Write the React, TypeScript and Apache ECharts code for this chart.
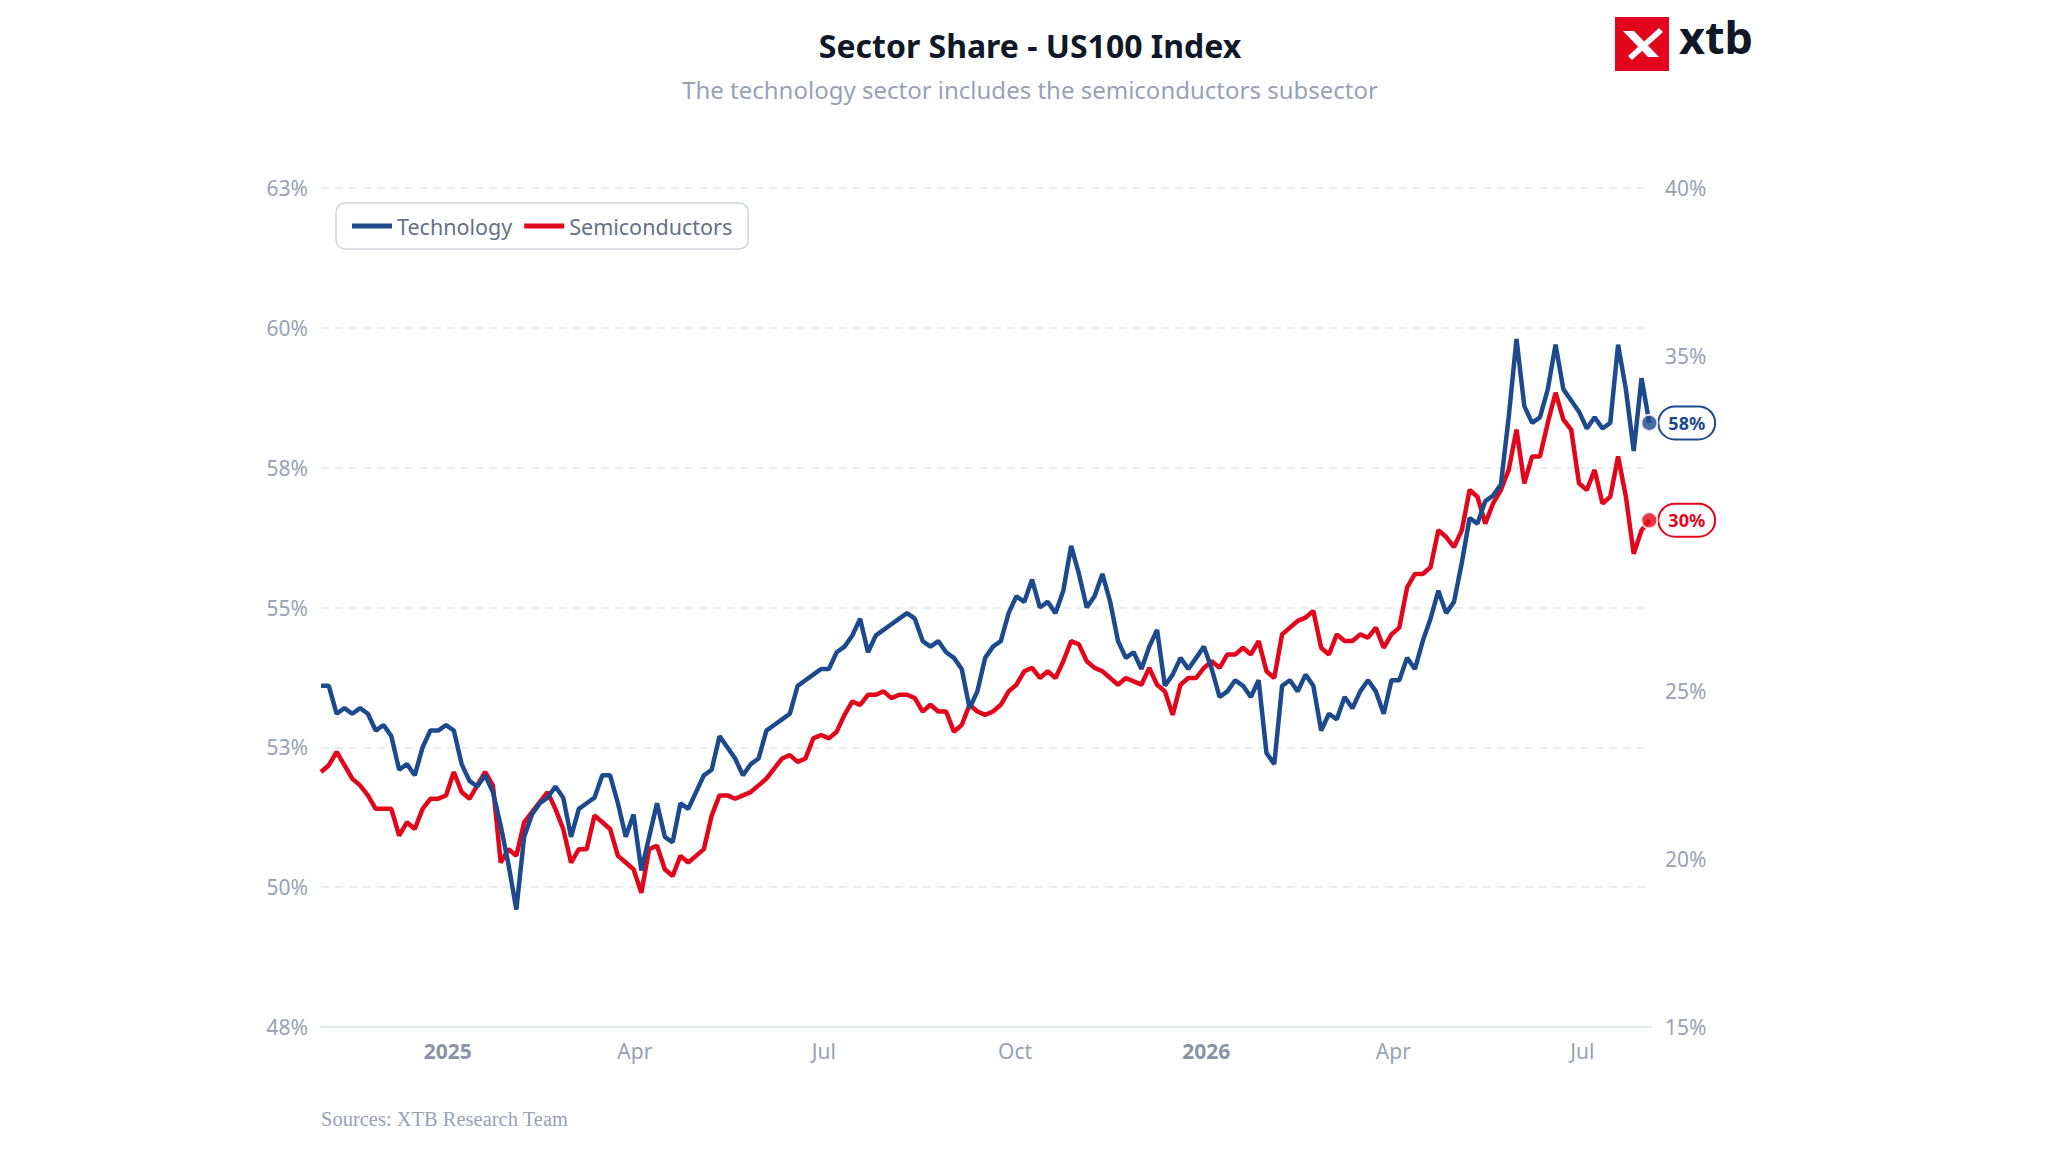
import React, { useEffect, useRef } from "react";
import * as echarts from "echarts";

const startDate = "2024-11-01";
const stepDays = 3.76;

const technology = [
  53.6,53.6,53.1,53.2,53.1,53.2,53.1,52.8,52.9,52.7,
  52.1,52.2,52.0,52.5,52.8,52.8,52.9,52.8,52.2,51.9,
  51.8,52.0,51.7,51.1,50.4,49.6,50.9,51.3,51.5,51.6,
  51.8,51.6,50.9,51.4,51.5,51.6,52.0,52.0,51.5,50.9,
  51.3,50.3,50.9,51.5,50.9,50.8,51.5,51.4,51.7,52.0,
  52.1,52.7,52.5,52.3,52.0,52.2,52.3,52.8,52.9,53.0,
  53.1,53.6,53.7,53.8,53.9,53.9,54.2,54.3,54.5,54.8,
  54.2,54.5,54.6,54.7,54.8,54.9,54.8,54.4,54.3,54.4,
  54.2,54.1,53.9,53.2,53.5,54.1,54.3,54.4,54.9,55.2,
  55.1,55.5,55.0,55.1,54.9,55.3,56.1,55.6,55.0,55.2,
  55.6,55.1,54.4,54.1,54.2,53.9,54.3,54.6,53.6,53.8,
  54.1,53.9,54.1,54.3,53.9,53.4,53.5,53.7,53.6,53.4,
  53.7,52.4,52.2,53.6,53.7,53.5,53.8,53.6,52.8,53.1,
  53.0,53.4,53.2,53.5,53.7,53.5,53.1,53.7,53.7,54.1,
  53.9,54.4,54.8,55.3,54.9,55.1,55.8,56.6,56.5,56.9,
  57.0,57.2,58.4,59.8,58.6,58.3,58.4,58.9,59.7,58.9,
  58.7,58.5,58.2,58.4,58.2,58.3,59.7,58.9,57.8,59.1,
  58.3,
];

const semiconductors = [
  22.6,22.8,23.2,22.8,22.4,22.2,21.9,21.5,21.5,21.5,
  20.7,21.1,20.9,21.5,21.8,21.8,21.9,22.6,22.0,21.8,
  22.2,22.6,22.2,19.9,20.3,20.1,21.1,21.4,21.7,22.0,
  21.5,20.9,19.9,20.3,20.3,21.3,21.1,20.9,20.1,19.9,
  19.7,19.0,20.3,20.4,19.7,19.5,20.1,19.9,20.1,20.3,
  21.3,21.9,21.9,21.8,21.9,22.0,22.2,22.4,22.7,23.0,
  23.1,22.9,23.0,23.6,23.7,23.6,23.8,24.3,24.7,24.6,
  24.9,24.9,25.0,24.8,24.9,24.9,24.8,24.4,24.6,24.4,
  24.4,23.8,24.0,24.6,24.4,24.3,24.4,24.6,25.0,25.2,
  25.6,25.7,25.4,25.6,25.4,25.9,26.5,26.4,25.9,25.7,
  25.6,25.4,25.2,25.4,25.3,25.2,25.7,25.2,25.0,24.3,
  25.2,25.4,25.4,25.7,25.9,25.7,26.1,26.1,26.3,26.1,
  26.5,25.6,25.4,26.7,26.9,27.1,27.2,27.4,26.3,26.1,
  26.7,26.5,26.5,26.7,26.6,26.9,26.3,26.7,26.9,28.1,
  28.5,28.5,28.7,29.8,29.6,29.3,29.8,31.0,30.8,30.0,
  30.6,31.0,31.6,32.8,31.2,32.0,32.0,33.0,33.9,33.1,
  32.8,31.2,31.0,31.6,30.6,30.8,32.0,30.8,29.1,29.8,
  30.1,
];

const axisMin = "2024-11-01";
const axisMax = "2026-08-03";
const MONTHS = ["Jan","Feb","Mar","Apr","May","Jun","Jul","Aug","Sep","Oct","Nov","Dec"];

const BLUE = "#1d4a8c";
const RED = "#e3051b";
const GRAY = "#98a2b3";
const FONT = "'Noto Sans', 'Open Sans', sans-serif";

export default function App() {
  const ref = useRef<HTMLDivElement>(null);
  useEffect(() => {
    if (!ref.current) return;
    const chart = echarts.init(ref.current, null, { renderer: "svg" });
    const t0 = new Date(startDate + "T00:00:00").getTime();
    const day = 86400000;
    const techData = technology.map((v, i) => [t0 + i * stepDays * day, v]);
    const semiData = semiconductors.map((v, i) => [t0 + i * stepDays * day, v]);
    const lastT = techData[techData.length - 1];
    const lastS = semiData[semiData.length - 1];

    const endLabel = (color: string) => ({
      show: true,
      formatter: (p: any) => Math.round(p.value[1]) + "%",
      color,
      fontFamily: FONT,
      fontWeight: "bold",
      fontSize: 18,
      backgroundColor: "#fff",
      borderColor: color,
      borderWidth: 2,
      borderRadius: 16,
      padding: [7, 9, 6, 9],
      distance: 10,
    });

    chart.setOption({
      animation: false,
      backgroundColor: "#fff",
      textStyle: { fontFamily: FONT },
      title: [
        {
          text: "Sector Share - US100 Index",
          left: 1025,
          top: 24,
          textAlign: "center",
          textStyle: { fontSize: 32, fontWeight: "bold", color: "#101828", fontFamily: FONT },
        },
        {
          text: "The technology sector includes the semiconductors subsector",
          left: 1025,
          top: 72,
          textAlign: "center",
          textStyle: { fontSize: 24, fontWeight: "normal", color: GRAY, fontFamily: FONT },
        },
      ],
      legend: {
        left: 336,
        top: 203,
        padding: [12, 16, 12, 16],
        borderColor: "#d0d5dd",
        borderWidth: 1.5,
        borderRadius: 9,
        icon: "rect",
        itemWidth: 40,
        itemHeight: 5,
        itemGap: 12,
        textStyle: { fontSize: 21.5, color: "#667085", fontFamily: FONT },
        data: ["Technology", "Semiconductors"],
      },
      grid: { left: 321, right: 397, top: 188, bottom: 125 },
      xAxis: {
        type: "time",
        min: new Date(axisMin + "T00:00:00").getTime(),
        max: new Date(axisMax + "T00:00:00").getTime(),
        minInterval: 28 * day,
        axisLine: { lineStyle: { color: "#e4e7ec", width: 2 } },
        axisTick: { show: false },
        splitLine: { show: false },
        axisLabel: {
          margin: 13,
          hideOverlap: false,
          formatter: (val: number) => {
            const d = new Date(val);
            const m = d.getMonth();
            if (d.getDate() !== 1) return "";
            if (m === 0) return "{y|" + d.getFullYear() + "}";
            if (m % 3 === 0) return "{m|" + MONTHS[m] + "}";
            return "";
          },
          rich: {
            y: { fontSize: 21, fontWeight: "bold", color: "#8a94a6", fontFamily: FONT },
            m: { fontSize: 21, color: GRAY, fontFamily: FONT },
          },
        },
      },
      yAxis: [
        {
          type: "value",
          min: 47.5,
          max: 62.5,
          interval: 2.5,
          axisLine: { show: false },
          axisTick: { show: false },
          axisLabel: {
            margin: 13,
            fontSize: 21,
            color: GRAY,
            fontFamily: FONT,
            formatter: (v: number) => Math.round(v) + "%",
          },
          splitLine: { lineStyle: { color: "#e4e7ec", type: [8, 6], width: 1.5 } },
        },
        {
          type: "value",
          min: 15,
          max: 40,
          interval: 5,
          position: "right",
          axisLine: { show: false },
          axisTick: { show: false },
          splitLine: { show: false },
          axisLabel: {
            margin: 14,
            fontSize: 21,
            color: GRAY,
            fontFamily: FONT,
            formatter: (v: number) => (v === 30 ? "" : v + "%"),
          },
        },
      ],
      series: [
        {
          name: "Technology",
          type: "line",
          yAxisIndex: 0,
          data: techData,
          showSymbol: false,
          color: BLUE,
          lineStyle: { width: 4.5, color: BLUE },
          endLabel: endLabel(BLUE),
          z: 3,
        },
        {
          name: "Semiconductors",
          type: "line",
          yAxisIndex: 1,
          data: semiData,
          showSymbol: false,
          color: RED,
          lineStyle: { width: 4.5, color: RED },
          endLabel: endLabel(RED),
          z: 2,
        },
        {
          type: "scatter",
          yAxisIndex: 0,
          data: [lastT],
          symbolSize: 16,
          itemStyle: { color: BLUE, borderColor: "#fff", borderWidth: 2 },
          z: 5,
        },
        {
          type: "scatter",
          yAxisIndex: 1,
          data: [lastS],
          symbolSize: 16,
          itemStyle: { color: RED, borderColor: "#fff", borderWidth: 2 },
          z: 5,
        },
      ],
      graphic: [
        { type: "rect", left: 1615, top: 17, shape: { width: 54, height: 54 }, style: { fill: "#e3051b" } },
        {
          type: "polygon",
          shape: { points: [[1623, 31], [1634, 31], [1659, 57], [1648, 57]] },
          style: { fill: "#fff" },
        },
        {
          type: "polygon",
          shape: { points: [[1659, 28], [1663, 32], [1632, 60], [1628, 56]] },
          style: { fill: "#fff" },
        },
        {
          type: "text",
          left: 1679,
          top: 14,
          style: { text: "xtb", fontSize: 45, fontWeight: "bold", fill: "#101828", fontFamily: FONT },
        },
        {
          type: "text",
          left: 321,
          top: 1108,
          style: {
            text: "Sources: XTB Research Team",
            fontSize: 20.5,
            fill: GRAY,
            fontFamily: "'Liberation Serif', 'DejaVu Serif', serif",
          },
        },
      ],
    });
    return () => chart.dispose();
  }, []);
  return (
    <div
      ref={ref}
      style={{ position: "fixed", left: 0, top: 0, width: "2048px", height: "1152px", background: "#fff" }}
    />
  );
}
